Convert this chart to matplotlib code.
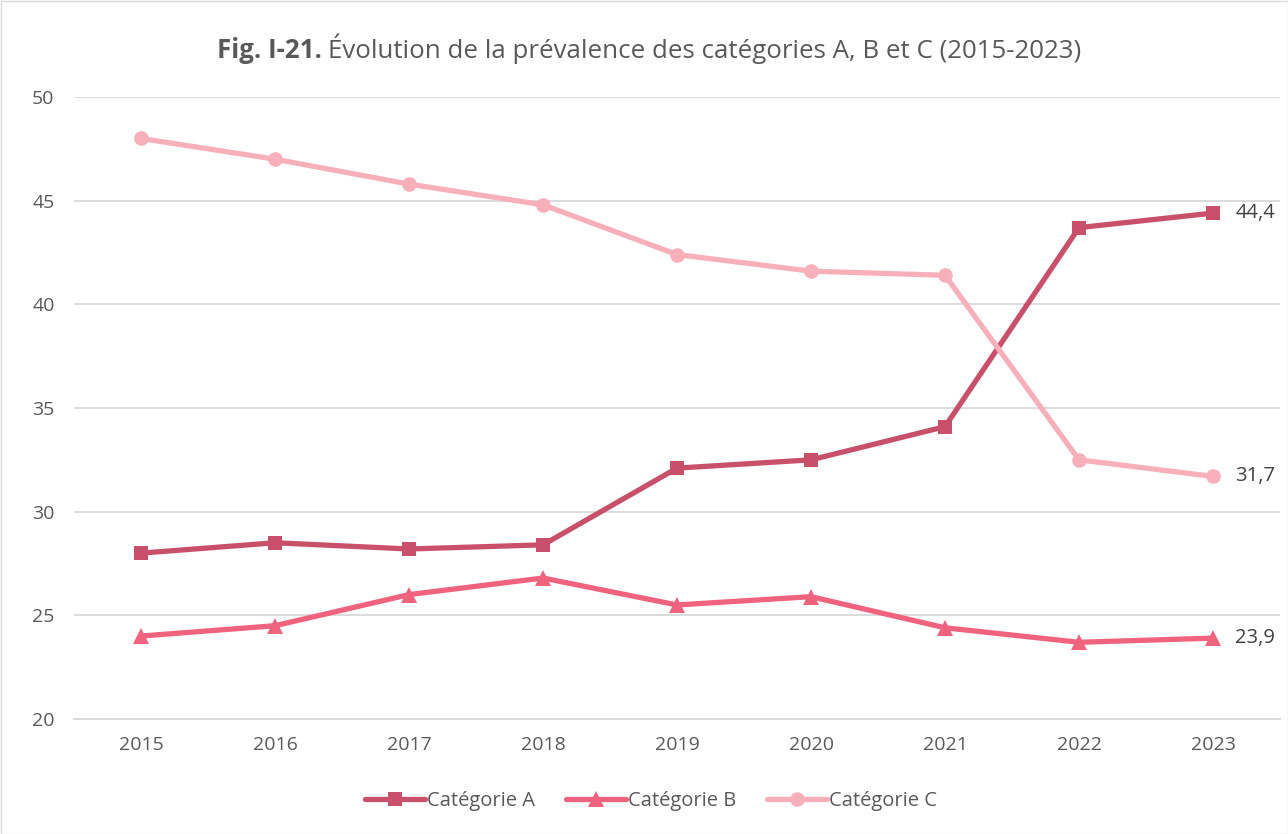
import matplotlib
matplotlib.use("Agg")
import matplotlib.pyplot as plt
from matplotlib.patches import Rectangle

years = ["2015", "2016", "2017", "2018", "2019", "2020", "2021", "2022", "2023"]
cat_a = [28.0, 28.5, 28.2, 28.4, 32.1, 32.5, 34.1, 43.7, 44.4]
cat_b = [24.0, 24.5, 26.0, 26.8, 25.5, 25.9, 24.4, 23.7, 23.9]
cat_c = [48.0, 47.0, 45.8, 44.8, 42.4, 41.6, 41.4, 32.5, 31.7]
series_names = ["Catégorie A", "Catégorie B", "Catégorie C"]
y_ticks = [20, 25, 30, 35, 40, 45, 50]

plt.rcParams['font.family'] = ['Open Sans', 'DejaVu Sans']
txt = '#595959'

fig = plt.figure(figsize=(12.88, 8.34), dpi=100)
ax = fig.add_axes([74/1288, 1-719/834, (1280-74)/1288, (719-97)/834])

x = list(range(len(years)))
styles = [
    (cat_a, '#C9506A', 's', 10),
    (cat_b, '#F0637E', '^', 11),
    (cat_c, '#F7AFBA', 'o', 10.5),
]
lines = []
for (vals, col, mk, ms), name in zip(styles, series_names):
    l, = ax.plot(x, vals, color=col, lw=3.8, marker=mk, markersize=ms,
                 markeredgewidth=0, label=name, solid_capstyle='round')
    lines.append(l)
    ax.annotate(f"{vals[-1]:.1f}".replace('.', ','), (x[-1], vals[-1]),
                xytext=(16, 0), textcoords='offset points', va='center',
                ha='left', fontsize=14.5, color='#404040', annotation_clip=False)

ax.set_xlim(-0.5, len(years) - 0.5)
ax.set_ylim(20, 50)
ax.set_yticks(y_ticks)
ax.set_xticks(x)
ax.set_xticklabels(years)
ax.yaxis.grid(True, color='#D9D9D9', lw=1.3)
ax.set_axisbelow(True)
for s in ['top', 'right', 'left']:
    ax.spines[s].set_visible(False)
ax.spines['bottom'].set_color('#D9D9D9')
ax.spines['bottom'].set_linewidth(1.3)
ax.tick_params(axis='both', length=0, colors=txt, labelsize=14)
ax.tick_params(axis='y', pad=14)
ax.tick_params(axis='x', pad=12)

title_y = 1 - 58/834
t1 = fig.text(217/1288, title_y, "Fig. I-21.", fontweight='bold', fontsize=18.6,
              color=txt, va='baseline', ha='left')
fig.canvas.draw()
bb = t1.get_window_extent()
fig.text((bb.x1 + 6)/1288, title_y, "Évolution de la prévalence des catégories A, B et C (2015-2023)",
         fontsize=18.6, color=txt, va='baseline', ha='left')

fig.legend(handles=lines, loc='center', bbox_to_anchor=(651/1288, 1-801/834),
           ncol=3, frameon=False, fontsize=14.5, labelcolor=txt,
           handlelength=3.0, columnspacing=1.5, handletextpad=0.1)

fig.patches.append(Rectangle((0.5/1288, 0.5/834), 1-1/1288, 1-1/834, transform=fig.transFigure,
                             fill=False, edgecolor='#D9D9D9', lw=1))

fig.savefig("out.png", dpi=100)
